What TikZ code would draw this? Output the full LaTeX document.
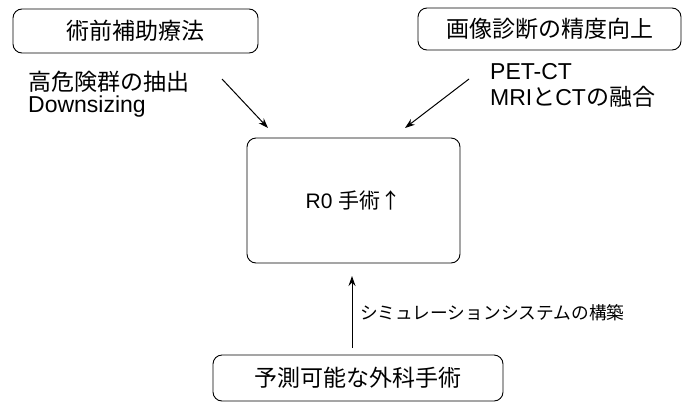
\documentclass[tikz,border=0pt]{standalone}
\usepackage{fontspec}
\setmainfont{Liberation Sans}
\newfontfamily\jp{Noto Sans CJK JP}
\usetikzlibrary{arrows.meta}
\begin{document}
\begin{tikzpicture}[x=1pt,y=-1pt,
  box/.style={draw,line width=0.9pt,rounded corners=9pt,inner sep=0pt},
  lbl/.style={anchor=west,inner sep=0pt,font=\fontsize{23}{23}\selectfont},
  btxt/.style={font=\fontsize{23}{23}\selectfont},
  conn/.style={line width=1pt,-{Stealth[length=10pt,width=7pt]}}]
\useasboundingbox (0,0) rectangle (682,402);
\node[box,minimum width=245pt,minimum height=44pt,btxt] (b1) at (135.5,31) {\jp 術前補助療法};
\node[box,minimum width=263pt,minimum height=42pt,btxt] (b2) at (549.5,29) {\jp 画像診断の精度向上};
\node[box,minimum width=213pt,minimum height=125pt,font=\fontsize{21}{21}\selectfont] (c) at (353.5,200.5) {R0 {\jp 手術↑}};
\node[box,minimum width=290pt,minimum height=46pt,btxt] (b3) at (358,378) {\jp 予測可能な外科手術};
\node[lbl] (l1) at (28,82) {\jp 高危険群の抽出};
\node[lbl] (l2) at (28,107) {Downsizing};
\node[lbl] (l3) at (490,72) {PET-CT};
\node[lbl] (l4) at (490,97) {MRI{\jp と}CT{\jp の融合}};
\node[lbl,font=\fontsize{17.7}{18}\selectfont] (l5) at (360,313) {\jp シミュレーションシステムの構築};
\coordinate (a1s) at (222,79);
\coordinate (a1e) at (268,128);
\coordinate (a2s) at (469,79);
\coordinate (a2e) at (405,128);
\coordinate (a3s) at (352,348);
\coordinate (a3e) at (352,276);
\draw[conn] (a1s) -- (a1e);
\draw[conn] (a2s) -- (a2e);
\draw[conn] (a3s) -- (a3e);
\end{tikzpicture}
\end{document}
